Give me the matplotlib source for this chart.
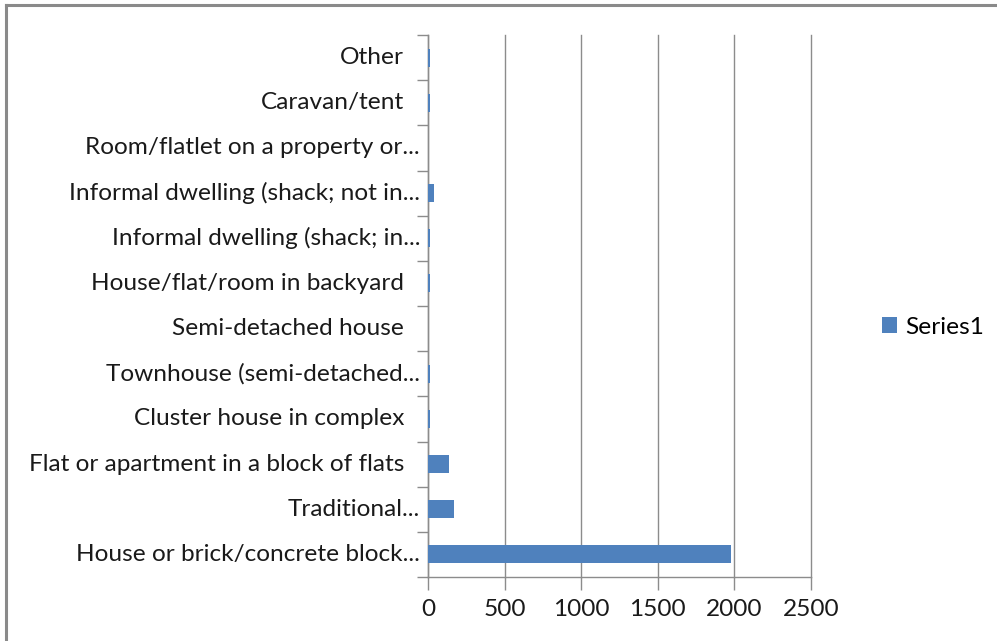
import matplotlib
matplotlib.use("Agg")
import matplotlib.pyplot as plt
import matplotlib.transforms as mtransforms
from matplotlib.lines import Line2D

categories = [
    "House or brick/concrete block...",
    "Traditional...",
    "Flat or apartment in a block of flats",
    "Cluster house in complex",
    "Townhouse (semi-detached...",
    "Semi-detached house",
    "House/flat/room in backyard",
    "Informal dwelling (shack; in...",
    "Informal dwelling (shack; not in...",
    "Room/flatlet on a property or...",
    "Caravan/tent",
    "Other",
]
values = [1978, 172, 139, 12, 12, 0, 12, 12, 39, 0, 12, 12]
xticks = [0, 500, 1000, 1500, 2000, 2500]
series_name = "Series1"

plt.rcParams["font.family"] = ["Lato", "DejaVu Sans"]
bar_color = "#4F81BD"
grid_color = "#8C8C8C"
text_color = "#1a1a1a"
fs = 17.6

fig = plt.figure(figsize=(9.97, 6.41), dpi=100)
ax = fig.add_axes([428 / 997, 1 - 577 / 641, (811 - 428) / 997, (577 - 35) / 641])

y = list(range(len(categories)))
ax.barh(y, values, height=0.4, color=bar_color, linewidth=0,
        label=series_name, zorder=3)

ax.set_xlim(0, 2500)
ax.set_ylim(-0.5, len(categories) - 0.5)
ax.set_xticks(xticks)
ax.set_xticklabels([str(t) for t in xticks])
ax.set_yticks([])
ax.xaxis.grid(True, color=grid_color, linewidth=1.0, zorder=0)
for gl in ax.get_xgridlines():
    gl.set_clip_on(False)

for side in ("top", "right"):
    ax.spines[side].set_visible(False)
for side in ("left", "bottom"):
    ax.spines[side].set_color(grid_color)
    ax.spines[side].set_linewidth(1.0)

# category boundary ticks on the left axis
ax.set_yticks([i - 0.5 for i in range(len(categories) + 1)], minor=True)
ax.tick_params(axis="y", which="minor", length=8, color=grid_color, width=1.0)
ax.tick_params(axis="x", which="major", length=9, color=grid_color, width=1.0,
               pad=7, labelsize=fs, labelcolor=text_color)

# category labels: truncated names let their ellipsis run past the text edge
base = mtransforms.blended_transform_factory(ax.transAxes, ax.transData)
for yi, name in zip(y, categories):
    shift = -24 if not name.endswith("...") else -8
    tr = base + mtransforms.ScaledTranslation(shift / 100, 0, fig.dpi_scale_trans)
    ax.text(0, yi, name, transform=tr, ha="right", va="center",
            fontsize=fs, color=text_color)

fig.legend(loc="center left", bbox_to_anchor=(860 / 997, 1 - 327 / 641),
           frameon=False, fontsize=fs, handlelength=0.6, handleheight=0.6,
           handletextpad=0.35)

# outer chart frame (left and top edges)
fig.add_artist(Line2D([6 / 997, 6 / 997], [0, 1 - 5 / 641], transform=fig.transFigure,
                      color="#8A8A8A", linewidth=2.2))
fig.add_artist(Line2D([6 / 997, 1], [1 - 5 / 641, 1 - 5 / 641], transform=fig.transFigure,
                      color="#8A8A8A", linewidth=2.2))

fig.savefig("out.png", dpi=100)
